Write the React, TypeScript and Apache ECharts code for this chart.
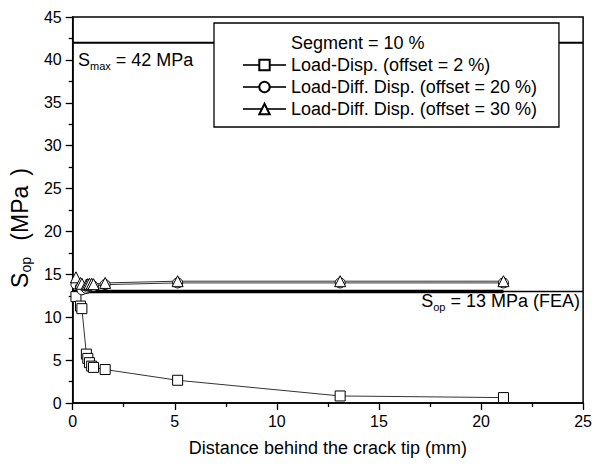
import React, { useEffect, useRef } from "react";
import * as echarts from "echarts";

const FONT = "'Liberation Sans', Arial, Helvetica, sans-serif";

// Distance behind the crack tip (mm)
const distances = [0.16, 0.38, 0.45, 0.67, 0.74, 0.82, 0.93, 1.02, 1.59, 5.14, 13.1, 21.1];
// S_op (MPa)
const loadDisp2 = [12.4, 11.3, 11.0, 5.7, 5.2, 4.7, 4.3, 4.15, 3.9, 2.65, 0.82, 0.63];
const loadDiffDisp20 = [13.85, 13.5, 13.2, 13.35, 13.5, 13.6, 13.6, 13.6, 13.8, 14.0, 14.0, 14.0];
const loadDiffDisp30 = [14.65, 14.0, 13.9, 13.8, 13.85, 13.9, 13.9, 13.85, 14.0, 14.2, 14.2, 14.2];

const seriesNames = [
  "Load-Disp. (offset = 2 %)",
  "Load-Diff. Disp. (offset = 20 %)",
  "Load-Diff. Disp. (offset = 30 %)",
];
const legendTitle = "Segment = 10 %";

const sMax = 42;
const sOpFEA = 13;
const feaEndX = 21.1;
const xMin = 0;
const xMax = 25;
const yMin = 0;
const yMax = 45;

const pair = (ys: number[]) => distances.map((x, i) => [x, ys[i]]);

export default function App() {
  const ref = useRef<HTMLDivElement>(null);
  useEffect(() => {
    if (!ref.current) return;
    const chart = echarts.init(ref.current, undefined, { renderer: "svg" });
    const markerStyle = { color: "#fff", borderColor: "#000", borderWidth: 1 };
    const lineStyle = { color: "#333", width: 1 };
    const subRich = (size: number, subPad = 0, closePad = 0) => ({
      a: { fontSize: size, lineHeight: size + 4, color: "#000", fill: "#000", fontFamily: FONT },
      b: {
        fontSize: Math.round(size * 0.62),
        lineHeight: 6,
        verticalAlign: "bottom",
        padding: [0, subPad, 0, 0],
        color: "#000",
        fill: "#000",
        fontFamily: FONT,
      },
      c: { fontSize: size, lineHeight: size + 4, padding: [0, 0, 0, closePad], color: "#000", fill: "#000", fontFamily: FONT },
    });
    chart.setOption({
      animation: false,
      textStyle: { fontFamily: FONT },
      grid: { left: 68, right: 6, top: 17, bottom: 61, show: true, borderColor: "#000", borderWidth: 1.5, backgroundColor: "transparent" },
      legend: {
        selectedMode: false,
        orient: "vertical",
        left: 214,
        top: 23,
        padding: [11, 22, 9, 28],
        itemGap: 4,
        itemWidth: 43,
        itemHeight: 13,
        backgroundColor: "#fff",
        borderColor: "#000",
        borderWidth: 1.3,
        textStyle: { fontSize: 18, color: "#000", fontFamily: FONT },
        data: [{ name: legendTitle, icon: "none" }, ...seriesNames],
      },
      xAxis: {
        type: "value",
        min: xMin,
        max: xMax,
        interval: 5,
        name: "Distance behind the crack tip (mm)",
        nameLocation: "middle",
        nameGap: 36,
        nameTextStyle: { fontSize: 18, color: "#000", fontFamily: FONT },
        axisLine: { lineStyle: { color: "#000", width: 1.5 } },
        axisTick: { inside: false, length: 7, lineStyle: { color: "#000", width: 1.3 } },
        minorTick: { show: true, splitNumber: 2, length: 4, lineStyle: { color: "#000", width: 1.3 } },
        axisLabel: { fontSize: 16, color: "#000", margin: 10, fontFamily: FONT },
        splitLine: { show: false },
      },
      yAxis: {
        type: "value",
        min: yMin,
        max: yMax,
        interval: 5,
        name: "{a|S}{b|op}{a| (MPa}{c|)}",
        nameLocation: "middle",
        nameGap: 31,
        nameTextStyle: {
          color: "#000",
          fontFamily: FONT,
          padding: [0, 36, 0, 0],
          rich: subRich(23, 10, 10),
        },
        axisLine: { lineStyle: { color: "#000", width: 1.5 } },
        axisTick: { inside: false, length: 7, lineStyle: { color: "#000", width: 1.3 } },
        minorTick: { show: true, splitNumber: 2, length: 4, lineStyle: { color: "#000", width: 1.3 } },
        axisLabel: { fontSize: 16, color: "#000", margin: 11, fontFamily: FONT },
        splitLine: { show: false },
      },
      series: [
        {
          name: "Smax",
          type: "line",
          data: [[xMin, sMax], [xMax, sMax]],
          symbol: "none",
          lineStyle: { color: "#000", width: 1.8 },
          silent: true,
          z: 1,
        },
        {
          name: "FEA thin",
          type: "line",
          data: [[xMin, sOpFEA], [xMax, sOpFEA]],
          symbol: "none",
          lineStyle: { color: "#000", width: 1.5 },
          silent: true,
          z: 1,
        },
        {
          name: "FEA",
          type: "line",
          data: [[xMin, sOpFEA], [feaEndX, sOpFEA]],
          symbol: "none",
          lineStyle: { color: "#000", width: 3.5 },
          silent: true,
          z: 1,
        },
        { name: legendTitle, type: "line", data: [] },
        {
          name: seriesNames[0],
          type: "line",
          data: pair(loadDisp2),
          symbol: "rect",
          symbolSize: 10,
          itemStyle: markerStyle,
          lineStyle,
          z: 3,
        },
        {
          name: seriesNames[1],
          type: "line",
          data: pair(loadDiffDisp20),
          symbol: "circle",
          symbolSize: 10,
          itemStyle: markerStyle,
          lineStyle,
          z: 3,
        },
        {
          name: seriesNames[2],
          type: "line",
          data: pair(loadDiffDisp30),
          symbol: "triangle",
          symbolSize: 11,
          itemStyle: markerStyle,
          lineStyle,
          z: 3,
        },
      ],
      graphic: [
        {
          type: "text",
          left: 78,
          top: 51,
          z: 10,
          style: {
            text: "{a|S}{b|max}{a| = 42 MPa}",
            fill: "#000",
            font: `18px ${FONT}`,
            rich: subRich(18),
          },
        },
        {
          type: "text",
          right: 15,
          top: 292,
          z: 10,
          style: {
            text: "{a|S}{b|op}{a| = 13 MPa (FEA)}",
            fill: "#000",
            font: `18px ${FONT}`,
            rich: subRich(18),
          },
        },
      ],
    });
    return () => chart.dispose();
  }, []);
  return (
    <div
      ref={ref}
      style={{ position: "fixed", left: 0, top: 0, width: 595, height: 464, background: "#fff" }}
    />
  );
}
